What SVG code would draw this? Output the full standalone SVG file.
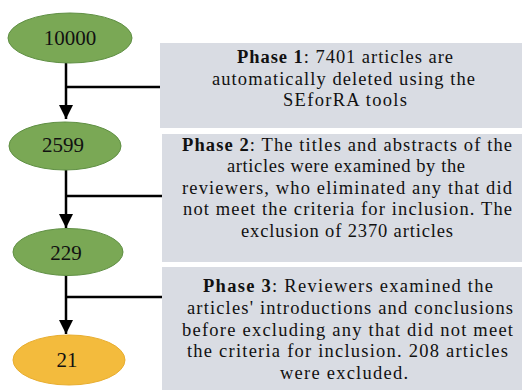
<svg xmlns="http://www.w3.org/2000/svg" width="522" height="390" viewBox="0 0 522 390">
  <style>
    .green { fill: #7aa855; stroke: #5f8f43; stroke-width: 1; }
    .gold { fill: #f3bb3d; stroke: #e8ad2f; stroke-width: 1; }
    .num { font-family: "Liberation Serif", "Times New Roman", serif; font-size: 21px; fill: #111; text-anchor: middle; }
    .box { fill: #d9dce3; }
    .txt { font-family: "Liberation Serif", "Times New Roman", serif; font-size: 18.5px; fill: #111; text-anchor: start; }
    .conn { stroke: #000; stroke-width: 2.5; fill: none; }
  </style>
  <defs>
    <marker id="arrowhead" viewBox="0 0 10 10" refX="10" refY="5" markerWidth="14" markerHeight="15" orient="auto" markerUnits="userSpaceOnUse">
      <path d="M0,0 L10,5 L0,10 Z" fill="#000"/>
    </marker>
  </defs>

  <rect width="522" height="390" fill="#fff"/>

  <g id="connectors">
    <line class="conn" x1="66" y1="63" x2="66" y2="119" marker-end="url(#arrowhead)"/>
    <line class="conn" x1="66" y1="87" x2="160" y2="87"/>
    <line class="conn" x1="66" y1="170" x2="66" y2="228" marker-end="url(#arrowhead)"/>
    <line class="conn" x1="66" y1="196" x2="162" y2="196"/>
    <line class="conn" x1="66" y1="275" x2="66" y2="334" marker-end="url(#arrowhead)"/>
    <line class="conn" x1="66" y1="297" x2="162" y2="297"/>
  </g>

  <g id="node-10000">
    <ellipse class="green" cx="70" cy="38" rx="62" ry="25"/>
    <text class="num" x="70" y="45">10000</text>
  </g>
  <g id="node-2599">
    <ellipse class="green" cx="65" cy="146" rx="56" ry="24"/>
    <text class="num" x="63" y="152">2599</text>
  </g>
  <g id="node-229">
    <ellipse class="green" cx="68" cy="252" rx="55" ry="23.5"/>
    <text class="num" x="66" y="260">229</text>
  </g>
  <g id="node-21">
    <ellipse class="gold" cx="69" cy="360" rx="56" ry="25"/>
    <text class="num" x="67" y="367">21</text>
  </g>

  <g id="phase1">
    <rect class="box" x="160" y="43" width="362" height="85"/>
    <text class="txt" x="237" y="63" textLength="216" lengthAdjust="spacing"><tspan font-weight="bold">Phase 1</tspan>: 7401 articles are</text>
    <text class="txt" x="212" y="85" textLength="263" lengthAdjust="spacing">automatically deleted using the</text>
    <text class="txt" x="283" y="106" textLength="124" lengthAdjust="spacing">SEforRA tools</text>
  </g>
  <g id="phase2">
    <rect class="box" x="162" y="134" width="360" height="128"/>
    <text class="txt" x="182" y="151" textLength="330" lengthAdjust="spacing"><tspan font-weight="bold">Phase 2</tspan>: The titles and abstracts of the</text>
    <text class="txt" x="227" y="172" textLength="238" lengthAdjust="spacing">articles were examined by the</text>
    <text class="txt" x="182" y="194" textLength="330" lengthAdjust="spacing">reviewers, who eliminated any that did</text>
    <text class="txt" x="183" y="215" textLength="329" lengthAdjust="spacing">not meet the criteria for inclusion. The</text>
    <text class="txt" x="241" y="237" textLength="212" lengthAdjust="spacing">exclusion of 2370 articles</text>
  </g>
  <g id="phase3">
    <rect class="box" x="162" y="267" width="360" height="123"/>
    <text class="txt" x="203" y="292" textLength="290" lengthAdjust="spacing"><tspan font-weight="bold">Phase 3</tspan>: Reviewers examined the</text>
    <text class="txt" x="187" y="314" textLength="326" lengthAdjust="spacing">articles' introductions and conclusions</text>
    <text class="txt" x="182" y="336" textLength="331" lengthAdjust="spacing">before excluding any that did not meet</text>
    <text class="txt" x="187" y="357" textLength="321" lengthAdjust="spacing">the criteria for inclusion. 208 articles</text>
    <text class="txt" x="280" y="379" textLength="128" lengthAdjust="spacing">were excluded.</text>
  </g>
</svg>
